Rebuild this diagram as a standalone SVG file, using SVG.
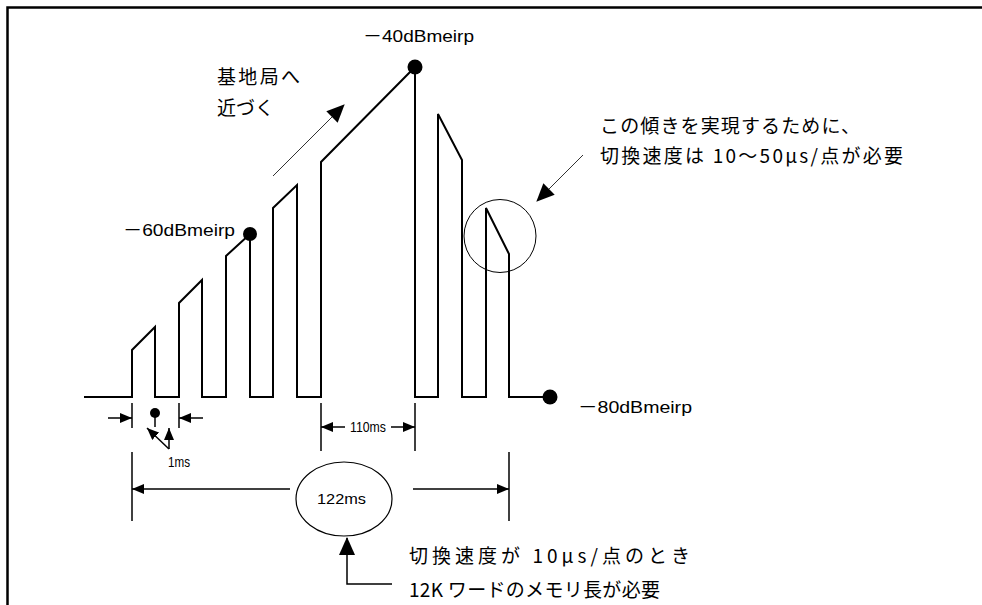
<svg xmlns="http://www.w3.org/2000/svg" width="982" height="605" viewBox="0 0 982 605">
<defs>
<style>
.sig{fill:none;stroke:#000;stroke-width:2;stroke-linejoin:miter}
.thin{fill:none;stroke:#333;stroke-width:1}
.dim{fill:none;stroke:#000;stroke-width:1.5}
.jp{font-family:"Noto Sans CJK JP","Liberation Sans",sans-serif;font-size:19px;fill:#000}
.lbl{font-family:"Liberation Sans","Noto Sans CJK JP",sans-serif;font-size:17px;fill:#000}
.ms{font-family:"Liberation Sans","Noto Sans CJK JP",sans-serif;font-size:14px;fill:#000}
</style>
<marker id="big" markerUnits="userSpaceOnUse" markerWidth="18" markerHeight="16" refX="17" refY="8" orient="auto" viewBox="0 0 18 16"><path d="M0,0 L18,8 L0,16 z" fill="#000"/></marker>
<marker id="sm" markerUnits="userSpaceOnUse" markerWidth="12" markerHeight="10" refX="12" refY="5" orient="auto" viewBox="0 0 12 10"><path d="M0,0 L12,5 L0,10 z" fill="#000"/></marker>
</defs>
<rect width="982" height="605" fill="#fff"/>
<g id="frame"><path d="M7.5,605 V7.5 H982" fill="none" stroke="#000" stroke-width="2.5"/></g>

<g id="signal">
<path class="sig" d="M84,397 H132 V350 L155,327 V397 H179 V303 L202,280 V397 H226 V256 L250,234 V397 H273 V208 L297,185 V397 H321 V162 L415,67 V397 H438 V114 L462,160 V397 H486 V208 L509,254 V397 H550"/>
<circle cx="250" cy="234" r="7" fill="#000"/>
<circle cx="415" cy="67" r="7.5" fill="#000"/>
<circle cx="550" cy="397" r="7.5" fill="#000"/>
</g>

<g id="label-40"><text class="lbl" x="363" y="42" textLength="111" lengthAdjust="spacingAndGlyphs">－40dBmeirp</text></g>
<g id="label-60"><text class="lbl" x="123" y="236" textLength="112" lengthAdjust="spacingAndGlyphs">－60dBmeirp</text></g>
<g id="label-80"><text class="lbl" x="578" y="413" textLength="114" lengthAdjust="spacingAndGlyphs">－80dBmeirp</text></g>

<g id="approach">
<text class="jp" x="217" y="84" font-size="20" textLength="83" lengthAdjust="spacing">基地局へ</text>
<text class="jp" x="217" y="115" font-size="20" textLength="57" lengthAdjust="spacing">近づく</text>
</g>

<g id="slope-note">
<ellipse cx="500" cy="236" rx="36" ry="36.5" fill="none" stroke="#000" stroke-width="1"/>
<text class="jp" x="600" y="133" font-size="20" textLength="260" lengthAdjust="spacing">この傾きを実現するために、</text>
<text class="jp" x="600" y="163" font-size="20" textLength="303" lengthAdjust="spacing">切換速度は 10〜50μs/点が必要</text>
</g>

<g id="dim-1ms">
<text class="ms" x="168" y="467" textLength="22" lengthAdjust="spacingAndGlyphs">1ms</text>
<circle cx="155" cy="413" r="5" fill="#000"/>
</g>

<g id="dim-110ms">
<text class="ms" x="350" y="432" textLength="36" lengthAdjust="spacingAndGlyphs">110ms</text>
</g>

<g id="total-122ms">
<ellipse cx="344" cy="499" rx="48" ry="37" fill="none" stroke="#000" stroke-width="1.2"/>
<text class="ms" x="317" y="504" font-size="15" textLength="49" lengthAdjust="spacingAndGlyphs">122ms</text>
</g>

<g id="memory-note">
<text class="jp" x="409" y="563" textLength="281" lengthAdjust="spacing">切換速度が 10μs/点のとき</text>
<text class="jp" x="409" y="597" textLength="251" lengthAdjust="spacing">12K ワードのメモリ長が必要</text>
</g>

<g id="connectors">
<line class="thin" x1="273" y1="176" x2="344" y2="105" marker-end="url(#big)"/>
<line class="thin" x1="583" y1="155" x2="537" y2="201" marker-end="url(#big)"/>
<!-- 1ms -->
<line class="dim" x1="132" y1="403" x2="132" y2="428"/>
<line class="dim" x1="179" y1="403" x2="179" y2="428"/>
<line class="dim" x1="108" y1="418" x2="132" y2="418" marker-end="url(#sm)"/>
<line class="dim" x1="203" y1="418" x2="179" y2="418" marker-end="url(#sm)"/>
<line class="dim" x1="155" y1="413" x2="155" y2="427"/>
<line class="dim" x1="169" y1="449" x2="147" y2="428" marker-end="url(#sm)"/>
<line class="dim" x1="169" y1="449" x2="169" y2="428" marker-end="url(#sm)"/>
<!-- 110ms -->
<line class="dim" x1="321" y1="403" x2="321" y2="451"/>
<line class="dim" x1="415" y1="403" x2="415" y2="451"/>
<line class="dim" x1="345" y1="427" x2="321" y2="427" marker-end="url(#sm)"/>
<line class="dim" x1="391" y1="427" x2="415" y2="427" marker-end="url(#sm)"/>
<!-- 122ms -->
<line class="dim" x1="132" y1="452" x2="132" y2="521"/>
<line class="dim" x1="509" y1="452" x2="509" y2="521"/>
<line class="dim" x1="290" y1="489" x2="132" y2="489" marker-end="url(#sm)"/>
<line class="dim" x1="413" y1="489" x2="509" y2="489" marker-end="url(#sm)"/>
<!-- memory note pointer -->
<path class="dim" d="M392,584 H347 V538" stroke-width="2" marker-end="url(#big)"/>
</g>
</svg>
